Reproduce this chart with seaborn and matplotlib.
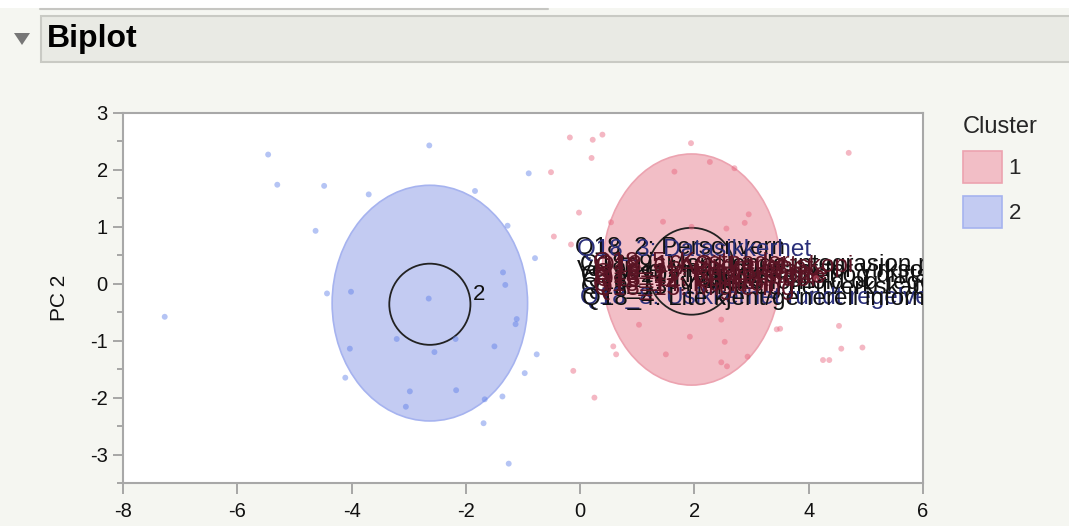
import numpy as np
import pandas as pd
import matplotlib
matplotlib.use("Agg")
import matplotlib.pyplot as plt
import seaborn as sns
from matplotlib.patches import Ellipse, Patch, Rectangle, Polygon
from matplotlib.lines import Line2D

# ---------------- data ----------------
cluster1_pc1 = [-0.18, 0.22, 0.39, 0.20, -0.51, 1.94, 4.70, 2.27, 2.70, 1.65,
                -0.02, 2.95, 0.54, 1.45, 1.95, 2.56, 2.88, -0.46, -0.16,
                1.03, 2.47, 1.92, 2.53, 3.44, 3.50, 4.53, 0.58, 0.63, 1.50,
                2.47, 2.57, 2.93, 4.57, 4.94, 4.25, 4.36, -0.12, 0.25, 4.13]
cluster1_pc2 = [2.57, 2.53, 2.62, 2.21, 1.96, 2.47, 2.30, 2.14, 2.03, 1.97,
                1.25, 1.22, 1.08, 1.09, 1.00, 0.97, 1.07, 0.83, 0.69,
                -0.72, -0.63, -0.93, -1.02, -0.80, -0.79, -0.74, -1.10, -1.24, -1.24,
                -1.38, -1.45, -1.28, -1.14, -1.12, -1.34, -1.34, -1.53, -2.00, 0.10]

cluster2_pc1 = [-5.46, -5.30, -4.48, -3.70, -2.64, -1.84, -0.90, -4.63, -1.27, -0.79,
                -1.35, -1.31, -4.01, -4.43, -2.65, -7.27, -1.11, -1.13, -3.21, -2.18,
                -4.03, -2.55, -1.50, -0.76, -4.11, -0.97, -2.98, -2.17, -1.67, -1.36,
                -3.05, -1.69, -1.25]
cluster2_pc2 = [2.27, 1.74, 1.72, 1.57, 2.43, 1.63, 1.94, 0.93, 1.02, 0.45,
                0.20, -0.02, -0.14, -0.17, -0.26, -0.58, -0.62, -0.71, -0.97, -0.97,
                -1.14, -1.20, -1.10, -1.24, -1.65, -1.57, -1.89, -1.87, -2.03, -1.98,
                -2.16, -2.45, -3.16]

cluster_names = ["1", "2"]
cluster_colors = ["#e8607a", "#5b7de8"]
ellipse_face = ["#f2bec6", "#c3cbf2"]
ellipse_edge = ["#eca3b0", "#a6b3ef"]
ellipse_cx = [1.95, -2.63]
ellipse_cy = [0.25, -0.34]
ellipse_rx = [1.56, 1.71]
ellipse_ry = [2.03, 2.07]
mean_circle_r = [0.76, 0.71]
mean_circle_cy = [0.22, -0.36]

var_labels = [
    "Vet ikke / ikke relevant for virksomheten",
    "Q18_9: Manglende integrasjon med eksisterende systemer",
    "Q18_10: Tilgjengelighet og driftsstabilitet i tjenesten",
    "Q18_7: Juridiske forhold og regelverk for lagring",
    "Q18_13: Ytelse og nettverkskapasitet hos leverandør",
    "Q18_2: Personvern",
    "Q18_3: Datasikkerhet",
    "Q18_8: Usikkerhet rundt regelverk",
    "Q18_4: Lite kjent/generell informasjon",
    "Q18_5: Kostnader",
    "Q18_6: Avhengighet",
    "Q18_11: Kompetanse",
    "Q18_12: Leverandør",
    "Q18_14: Kontroll",
    "Q18_15: Migrering",
    "Q18_16: Sikkerhetskopi",
    "Q18_17: Brukerstøtte",
]
var_x = [-0.06, 0.00, 0.02, 0.03, 0.02, -0.09, -0.05, 0.00, 0.03,
         0.22, 0.25, 0.24, 0.26, 0.23, 0.25, 0.27, 0.24]
var_y = [0.22, 0.33, 0.13, 0.02, -0.08, 0.62, 0.60, -0.25, -0.27,
         0.36, 0.27, 0.17, 0.07, -0.02, -0.10, 0.31, 0.12]
var_colors = ["#111111", "#111111", "#111111", "#111111", "#111111",
              "#111111", "#2a2f7a", "#2a2f7a", "#111111",
              "#5a1424", "#5a1424", "#5a1424", "#5a1424", "#5a1424", "#5a1424",
              "#5a1424", "#5a1424"]

x_ticks = [-8, -6, -4, -2, 0, 2, 4, 6]
y_ticks = [-3, -2, -1, 0, 1, 2, 3]

df = pd.DataFrame({
    "PC 1": cluster1_pc1 + cluster2_pc1,
    "PC 2": cluster1_pc2 + cluster2_pc2,
    "Cluster": ["1"] * len(cluster1_pc1) + ["2"] * len(cluster2_pc1),
})

# ---------------- figure ----------------
sns.set_theme(style="white")
plt.rcParams["font.family"] = ["Liberation Sans", "DejaVu Sans"]
plt.rcParams["axes.unicode_minus"] = False
bg = "#f5f6f1"
fig = plt.figure(figsize=(10.69, 5.26), dpi=100, facecolor=bg)
W, H = 1069, 526

# header decorations
fig.patches.append(Rectangle((0, 1 - 8 / H), 1, 8 / H, transform=fig.transFigure,
                             facecolor="white", edgecolor="none", zorder=0))
fig.lines.append(Line2D([40 / W, 548 / W], [1 - 8.5 / H, 1 - 8.5 / H],
                        transform=fig.transFigure, color="#c6c6c2", lw=1.5))
fig.patches.append(Rectangle((41 / W, 1 - 62 / H), 1.0, 46 / H, transform=fig.transFigure,
                             facecolor="#e9eae4", edgecolor="#c9cac4", lw=1.5, zorder=1))
fig.patches.append(Polygon([[14 / W, 1 - 33 / H], [30 / W, 1 - 33 / H], [22 / W, 1 - 45 / H]],
                           closed=True, transform=fig.transFigure,
                           facecolor="#777777", edgecolor="none"))
fig.text(47 / W, 1 - 39 / H, "Biplot", fontsize=23, fontweight="bold",
         ha="left", va="center", color="#000000")

ax = fig.add_axes([123 / W, 1 - 483 / H, 800 / W, 370 / H])
ax.set_facecolor("white")

for i in range(2):
    ax.add_patch(Ellipse((ellipse_cx[i], ellipse_cy[i]), 2 * ellipse_rx[i], 2 * ellipse_ry[i],
                         facecolor=ellipse_face[i], edgecolor=ellipse_edge[i], lw=1.2, zorder=1))
    ax.add_patch(Ellipse((ellipse_cx[i], mean_circle_cy[i]), 2 * mean_circle_r[i],
                         2 * mean_circle_r[i] * 57.14 / 56.9,
                         facecolor="none", edgecolor="#222222", lw=1.3, zorder=3))
    ax.text(ellipse_cx[i] + mean_circle_r[i] + 0.05, mean_circle_cy[i] + 0.18,
            cluster_names[i], fontsize=16, ha="left", va="center", color="#111111", zorder=3)

for lbl, x, y, c in zip(var_labels, var_x, var_y, var_colors):
    ax.text(x, y, lbl, fontsize=17.5, color=c, ha="left", va="center",
            clip_on=True, zorder=4)

sns.scatterplot(data=df, x="PC 1", y="PC 2", hue="Cluster",
                palette=dict(zip(cluster_names, cluster_colors)),
                s=18, alpha=0.45, linewidth=0, legend=False, ax=ax, zorder=5)

ax.set_xlim(-8, 6)
ax.set_ylim(-3.5, 3.0)
ax.set_xticks(x_ticks)
ax.set_yticks(y_ticks)
ax.set_yticks(np.arange(-3.5, 3.01, 0.5), minor=True)
ax.set_xlabel("")
ax.set_ylabel("PC 2", fontsize=15, color="#111111")
ax.yaxis.set_label_coords(-0.068, 0.5)
ax.tick_params(axis="both", which="major", labelsize=14.5, colors="#999999",
               labelcolor="#111111", direction="out", width=1.2)
ax.tick_params(axis="y", which="major", length=7, pad=4, left=True)
ax.tick_params(axis="y", which="minor", length=4, width=1.2, colors="#999999", left=True)
ax.tick_params(axis="x", which="major", length=8, pad=6, bottom=True)
for sp in ax.spines.values():
    sp.set_color("#a8a8a8")
    sp.set_linewidth(1.5)

handles = [Patch(facecolor=ellipse_face[i], edgecolor=ellipse_edge[i], lw=1.2,
                 label=cluster_names[i]) for i in range(2)]
leg = fig.legend(handles=handles, title="Cluster", loc="upper left",
                 bbox_to_anchor=(943 / W, 1 - 96 / H), frameon=False,
                 fontsize=16, title_fontsize=17, handlelength=1.75, handleheight=1.8,
                 handletextpad=0.3, labelspacing=0.6, alignment="left")

fig.savefig("out.png", dpi=100, facecolor=bg)
